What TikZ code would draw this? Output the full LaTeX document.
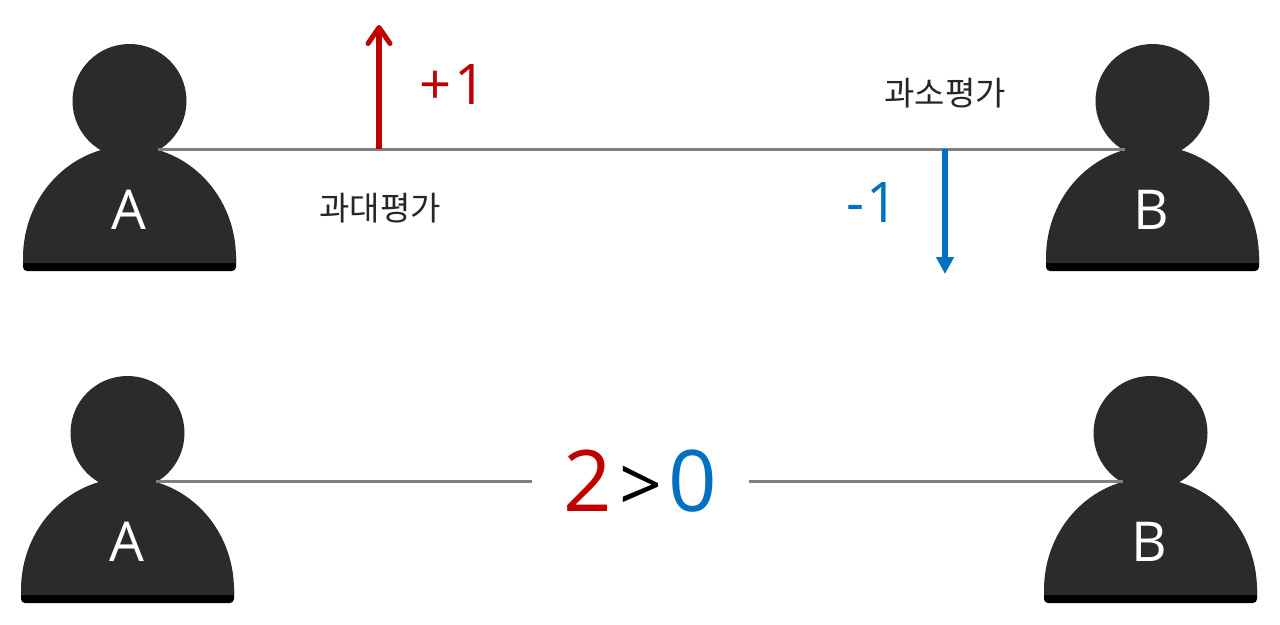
\documentclass[tikz,border=0pt]{standalone}
\usepackage{fontspec}
\setmainfont{Open Sans}
\newfontfamily\krfont{Noto Sans CJK KR}
\usetikzlibrary{arrows.meta, positioning}
\definecolor{darkbody}{HTML}{2B2B2B}
\definecolor{uplift}{HTML}{C00000}
\definecolor{downlift}{HTML}{0070C0}
\tikzset{
	head/.style={circle, fill=darkbody, minimum size=114pt, inner sep=0pt},
	tag/.style={text=white, font=\fontsize{55}{60}\selectfont, inner sep=0pt},
	link/.style={draw=black!50, line width=3pt},
	delta/.style={font=\fontsize{56}{60}\selectfont, inner sep=0pt},
	kor/.style={font=\krfont\fontsize{33}{38}\selectfont, text=black!85, inner sep=0pt},
	digit/.style={font=\fontsize{85}{96}\selectfont, inner sep=0pt},
}
\begin{document}
\begin{tikzpicture}[x=1pt, y=-1pt]
	\useasboundingbox[fill=white] (0,0) rectangle (1280,624);

	% the four persons
	\foreach \name/\tagtext/\x/\y in {ta/A/129.5/101, tb/B/1152.5/101, ba/A/127.5/433, bb/B/1150.5/433} {
		\fill[black, rounded corners=4pt] (\x-106.5,\y+150) rectangle (\x+106.5,\y+170);
		\fill[darkbody] (\x-106.5,\y+162) -- (\x-106.5,\y+157)
			.. controls (\x-106.5,\y+95) and (\x-59,\y+45) .. (\x,\y+45)
			.. controls (\x+59,\y+45) and (\x+106.5,\y+95) .. (\x+106.5,\y+157)
			-- (\x+106.5,\y+162) -- cycle;
		\node[head] (head\name) at (\x,\y) {};
		\node[tag] (tag\name) at (\x-1,\y+109) {\tagtext};
		\coordinate (left\name) at (\x-28,\y+48);
		\coordinate (right\name) at (\x+28,\y+48);
	}

	\node[digit, minimum width=217pt] (cmp) at (640.5,481) {\raisebox{-2.5pt}{\textcolor{uplift}{2}\hspace{7pt}\textcolor{black}{\fontsize{75}{80}\selectfont >}\hspace{7pt}\textcolor{downlift}{0}}};

	\draw[link] (rightta) -- (lefttb);
	\draw[link] (rightba) -- (cmp.west);
	\draw[link] (cmp.east) -- (leftbb);

	% arrows on the top line
	\coordinate (upfoot) at (379,149);
	\coordinate (uptip) at (379,25);
	\coordinate (downfoot) at (945,149);
	\coordinate (downtip) at (945,274);
	\draw[uplift, line width=6pt, -{Straight Barb[length=16pt, width=22pt, line width=5pt, round]}] (upfoot) -- (uptip);
	\draw[downlift, line width=5.5pt, -{Triangle[length=17pt, width=17pt]}] (downfoot) -- (downtip);

	\node[delta, text=uplift] (plus) at (453,85) {+\hspace{3pt}1};
	\node[delta, text=downlift] (minus) at (873,203) {-\hspace{2pt}1};
	\node[kor] (over) at (380,208) {과대평가};
	\node[kor] (under) at (945,93) {과소평가};
\end{tikzpicture}
\end{document}
